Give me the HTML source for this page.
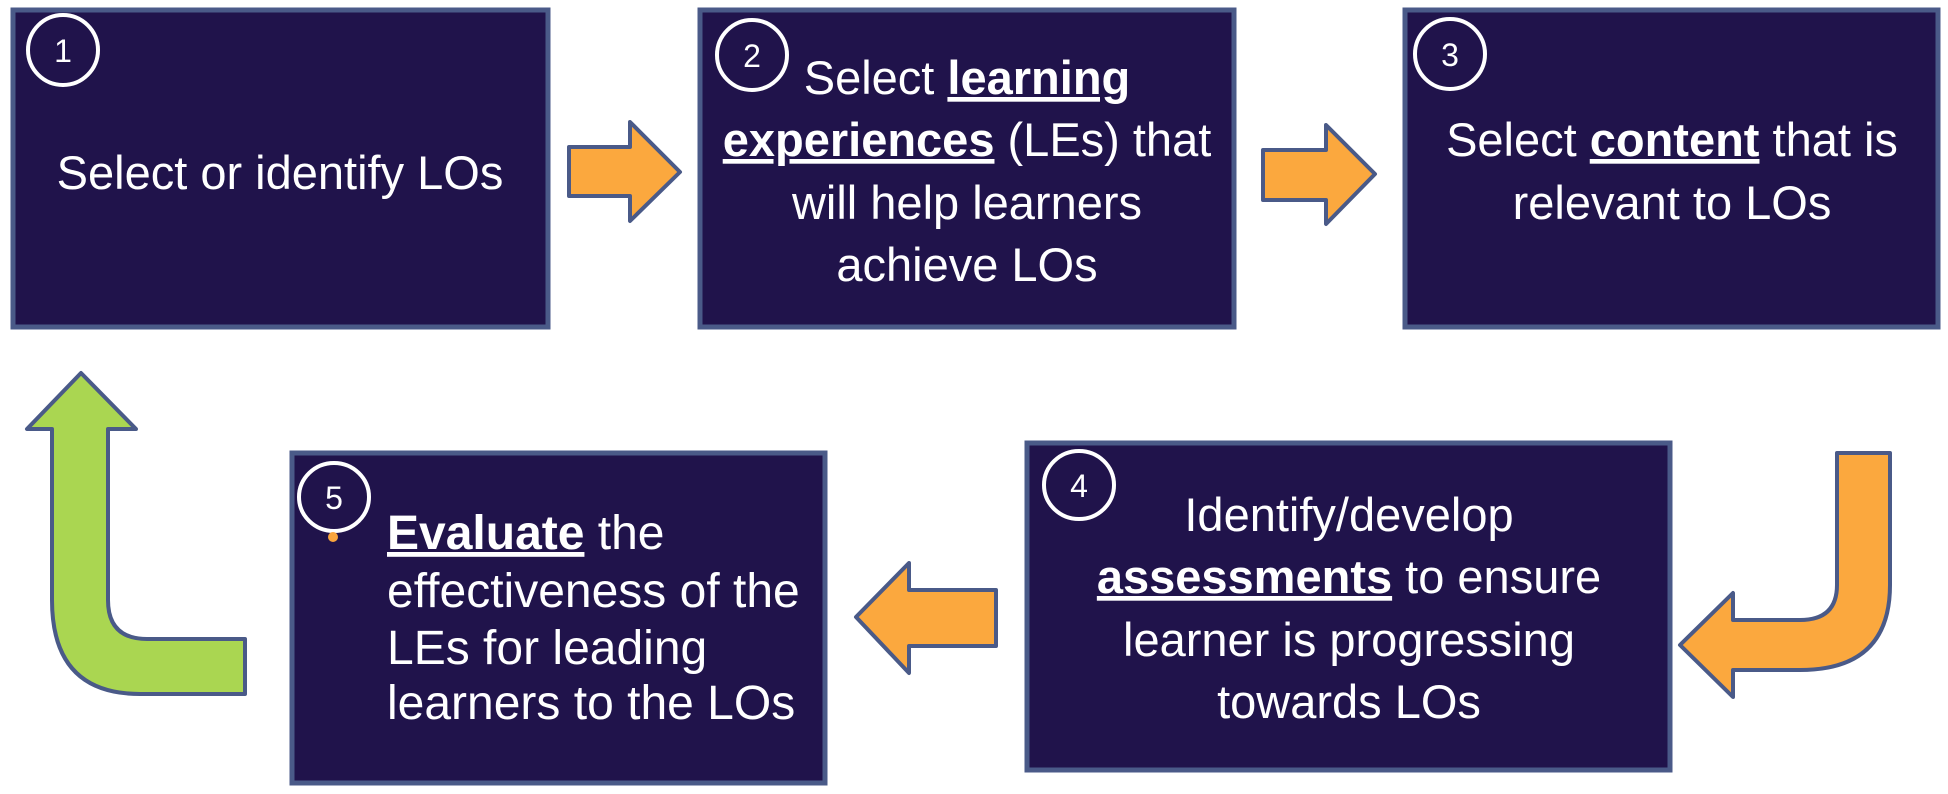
<!DOCTYPE html>
<html><head><meta charset="utf-8"><style>
html,body{margin:0;padding:0;background:#fff;width:1948px;height:794px;overflow:hidden}
svg{display:block}
text{font-family:"Liberation Sans",sans-serif;fill:#fff}
</style></head><body>
<svg width="1948" height="794" viewBox="0 0 1948 794">
<g fill="#20134b" stroke="#4a5a88" stroke-width="5">
<rect x="13" y="10" width="535" height="317"/>
<rect x="700" y="10" width="534" height="317"/>
<rect x="1405" y="10" width="533" height="317"/>
<rect x="1027" y="443" width="643" height="327"/>
<rect x="292" y="453" width="533" height="330"/>
</g>
<g fill="none" stroke="#fff" stroke-width="4">
<ellipse cx="63" cy="50" rx="35" ry="35"/>
<ellipse cx="752" cy="55" rx="35" ry="35"/>
<ellipse cx="1450" cy="54" rx="35" ry="35"/>
<ellipse cx="1079" cy="485" rx="35" ry="34"/>
<ellipse cx="334" cy="497" rx="35" ry="34"/>
</g>
<circle cx="333" cy="537" r="5" fill="#faa53d"/>
<g font-size="32" text-anchor="middle">
<text x="63" y="62">1</text>
<text x="752" y="67">2</text>
<text x="1450" y="66">3</text>
<text x="1079" y="497">4</text>
<text x="334" y="509">5</text>
</g>
<g stroke="#4a5a88" stroke-width="4" stroke-linejoin="round">
<polygon fill="#fba83e" points="569,147 630,147 630,122 680,172 630,221 630,196 569,196"/>
<polygon fill="#fba83e" points="1263,150 1326,150 1326,125 1375,174 1326,224 1326,200 1263,200"/>
<polygon fill="#fba83e" points="996,590 909,590 909,563 856,617 909,673 909,646 996,646"/>
<path fill="#fba83e" d="M1837,453 L1890,453 L1890,585 Q1890,670 1800,670 L1733,670 L1733,697 L1680,645 L1733,593 L1733,620 L1800,620 Q1837,620 1837,585 Z"/>
<path fill="#aad651" d="M245,639 L147,639 Q108,639 108,600 L108,429 L136,429 L81,373 L27,429 L52,429 L52,600 Q52,694 140,694 L245,694 Z"/>
</g>
<g font-size="47" text-anchor="middle">
<text x="280" y="189">Select  or identify LOs</text>
<text x="967" y="94">Select <tspan font-weight="bold" text-decoration="underline">learning</tspan></text>
<text x="967" y="156"><tspan font-weight="bold" text-decoration="underline">experiences</tspan> (LEs) that</text>
<text x="967" y="219">will help learners</text>
<text x="967" y="281">achieve LOs</text>
<text x="1672" y="156">Select <tspan font-weight="bold" text-decoration="underline">content</tspan> that is</text>
<text x="1672" y="219">relevant to LOs</text>
<text x="1349" y="531">Identify/develop</text>
<text x="1349" y="593"><tspan font-weight="bold" text-decoration="underline">assessments</tspan> to ensure</text>
<text x="1349" y="656">learner is progressing</text>
<text x="1349" y="718">towards LOs</text>
</g>
<g font-size="48">
<text x="387" y="549"><tspan font-weight="bold" text-decoration="underline">Evaluate</tspan> the</text>
<text x="387" y="607">effectiveness of the</text>
<text x="387" y="664">LEs for leading</text>
<text x="387" y="719">learners to the LOs</text>
</g>
</svg>
</body></html>
